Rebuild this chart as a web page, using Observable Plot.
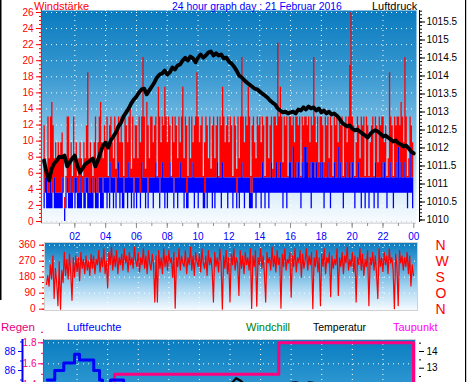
<!DOCTYPE html>
<html><head><meta charset="utf-8">
<script src="https://cdn.jsdelivr.net/npm/d3@7"></script>
<script src="https://cdn.jsdelivr.net/npm/@observablehq/plot@0.6"></script>
<style>
html,body{margin:0;padding:0;background:#fff;}
#wrap{position:relative;width:470px;height:382px;overflow:hidden;background:#fff;font-family:"Liberation Sans",Arial,sans-serif;}
#wrap svg{position:absolute;left:0;top:0;}
</style></head><body>
<div id="wrap">
<svg width="0" height="0" style="position:absolute">
<defs>
<linearGradient id="gTop" x1="0" y1="0" x2="0" y2="1">
<stop offset="0" stop-color="#0a7bbf"/><stop offset="0.3" stop-color="#3898d0"/><stop offset="0.55" stop-color="#7cbfe6"/><stop offset="0.75" stop-color="#b9def3"/><stop offset="0.9" stop-color="#e4f2fb"/><stop offset="1" stop-color="#f9fcff"/>
</linearGradient>
<linearGradient id="gMid" x1="0" y1="0" x2="0" y2="1">
<stop offset="0" stop-color="#0a7bbf"/><stop offset="0.35" stop-color="#4fa7da"/><stop offset="0.65" stop-color="#a6d4f0"/><stop offset="1" stop-color="#f7fbff"/>
</linearGradient>
<linearGradient id="gBot" x1="0" y1="0" x2="0" y2="1">
<stop offset="0" stop-color="#0a7dc1"/><stop offset="0.36" stop-color="#2c96d0"/><stop offset="1" stop-color="#8ccaee"/>
</linearGradient>
</defs></svg>
</div>
<script>
// ---------- data ----------
// wind gust, upper envelope (5-minute samples, 00:00 .. 24:00), one row per hour
const windGust = [
11.9,7.8,5.6,13,7.8,13,14.8,11.9,7.8,9.8,7.8,9.8,
7.8,9.8,11,7.8,3,5.6,13,13,7.8,9.8,5.6,13,
7.8,9.8,5.6,7.8,9.8,7.8,5.6,9.8,7.8,11.9,18.5,7.8,
9.8,7.8,5.6,9.8,13,7.8,9.8,13,14.8,9.8,7.8,11.9,
9.8,13,5.6,11.9,13,9.8,7.8,13,6.5,11.9,13,9.8,
13,9.8,5.6,13,11.9,9.8,13,14.8,6.5,13,7.8,11.9,
11.9,7.8,13,9.8,13,20.4,13,6.5,14.8,11.9,7.8,13,
13,9.8,11.9,13,5.6,16.7,13,9.8,13,11.9,16.7,13,
9.8,13,11.9,5.6,13,9.8,13,11.9,7.8,13,9.8,13,
16.7,7.8,13,11.9,5.6,13,7.8,13,9.8,11.9,13,18.5,
13,9.8,11.9,13,5.6,9.8,13,11.9,7.8,13,6.5,11.9,
13,7.8,11.9,13,5.6,13,11.9,16.7,13,9.8,11.9,13,
9.8,13,11.9,5.6,13,11.9,6.5,13,7.8,13,20.4,13,
9.8,13,11.9,16.7,13,5.6,11.9,13,9.8,7.8,13,11.9,
13,9.8,13,11.9,5.6,13,13,7.8,11.9,13,6.5,13,
13,11.9,22.2,13,16.7,13,7.3,13,11.9,13,5.6,13,
13,11.9,13,9.8,13,13,11.9,13,5.6,13,11.9,13,
13,11.9,13,9.8,13,11.9,20.4,13,9.8,13,7.3,13,
13,11.9,7.3,13,11.9,13,7.8,13,11.9,5.6,13,11.9,
13,9.8,13,11.9,13,5.6,11.9,13,9.8,13,19.4,26,
13,11.9,5.6,9.8,13,11.9,7.8,13,11.9,13,5.6,13,
11.9,5.6,9.8,11.9,13,5.6,13,11.9,7.3,13,11.9,13,
13,9.8,11.9,5.6,7.8,18.5,13,11.9,5.6,13,11.9,13,
13,11.9,14.8,13,9.8,20.4,13,5.6,7.8,13,11.9,9.8,
9.8];
// mean wind, upper envelope of each 5-minute slot
const windAvgHi = [
3.5,5.4,5.4,3.5,3.5,5.4,3.5,3.5,5.4,3.5,3.5,3.5,
3.5,3.5,5.4,3.5,1.6,3.5,5.4,3.5,3.5,5.4,3.5,3.5,
5.4,5.4,3.5,3.5,5.4,3.5,3.5,5.4,3.5,5.4,5.4,3.5,
3.5,5.4,3.5,3.5,5.4,3.5,3.5,5.4,5.4,5.4,3.5,5.4,
5.4,5.4,5.4,3.5,7.3,5.4,5.4,5.4,3.5,5.4,7.3,5.4,
5.4,5.4,3.5,5.4,5.4,5.4,7.3,5.4,5.4,5.4,3.5,5.4,
5.4,5.4,5.4,3.5,7.3,5.4,5.4,5.4,5.4,3.5,5.4,5.4,
5.4,5.4,5.4,7.3,5.4,5.4,3.5,5.4,7.3,5.4,5.4,5.4,
5.4,5.4,7.3,5.4,5.4,3.5,5.4,5.4,5.4,5.4,7.3,5.4,
5.4,5.4,5.4,3.5,5.4,5.4,5.4,5.4,7.3,5.4,5.4,5.4,
5.4,5.4,5.4,5.4,5.4,3.5,5.4,5.4,5.4,5.4,5.4,5.4,
5.4,5.4,5.4,7.3,5.4,5.4,5.4,7.3,5.4,5.4,5.4,5.4,
5.4,5.4,5.4,5.4,5.4,5.4,3.5,5.4,5.4,5.4,7.3,5.4,
5.4,5.4,5.4,5.4,5.4,3.5,3.5,5.4,5.4,5.4,5.4,5.4,
5.4,5.4,7.3,5.4,5.4,5.4,5.4,5.4,5.4,7.3,5.4,5.4,
5.4,7.3,5.4,5.4,7.3,5.4,5.4,5.4,5.4,5.4,5.4,7.3,
7.3,5.4,9.2,5.4,7.3,5.4,7.3,5.4,5.4,7.3,5.4,9.2,
9.2,7.3,5.4,7.3,5.4,7.3,7.3,5.4,7.3,5.4,5.4,7.3,
5.4,7.3,5.4,5.4,5.4,7.3,5.4,5.4,5.4,5.4,7.3,5.4,
5.4,9.2,5.4,7.3,5.4,5.4,5.4,7.3,5.4,5.4,7.3,5.4,
7.3,5.4,5.4,5.4,5.4,7.3,5.4,5.4,5.4,5.4,5.4,5.4,
5.4,5.4,5.4,5.4,5.4,5.4,7.3,5.4,5.4,5.4,5.4,7.3,
5.4,7.3,5.4,5.4,5.4,5.4,7.3,5.4,5.4,5.4,7.3,5.4,
9.2,5.4,7.3,5.4,5.4,7.3,5.4,5.4,5.4,9.2,5.4,5.4,
5.4];
// mean wind, lower envelope of each 5-minute slot
const windAvgLo = [
1.6,3.5,1.6,1.6,1.6,1.6,1.6,3.5,1.6,1.6,1.6,1.6,
1.6,1.6,1.6,3.5,0,1.6,3.5,1.6,1.6,1.6,1.6,3.5,
1.6,3.5,1.6,1.6,1.6,1.6,3.5,1.6,1.6,3.5,1.6,1.6,
1.6,1.6,1.6,3.5,1.6,1.6,1.6,3.5,1.6,1.6,1.6,3.5,
3.5,1.6,3.5,1.6,3.5,3.5,1.6,3.5,1.6,3.5,3.5,1.6,
3.5,1.6,1.6,3.5,3.5,1.6,3.5,3.5,1.6,3.5,1.6,3.5,
1.6,3.5,3.5,1.6,3.5,3.5,3.5,1.6,3.5,1.6,3.5,3.5,
3.5,1.6,3.5,3.5,3.5,3.5,1.6,3.5,3.5,3.5,1.6,3.5,
1.6,3.5,3.5,3.5,3.5,1.6,3.5,3.5,1.6,3.5,3.5,3.5,
3.5,1.6,3.5,1.6,1.6,3.5,3.5,3.5,3.5,1.6,3.5,3.5,
1.6,3.5,3.5,3.5,1.6,1.6,3.5,1.6,3.5,3.5,3.5,1.6,
3.5,1.6,3.5,3.5,3.5,3.5,1.6,3.5,3.5,3.5,3.5,1.6,
3.5,3.5,3.5,1.6,3.5,3.5,1.6,3.5,1.6,3.5,3.5,3.5,
1.6,3.5,3.5,3.5,1.6,1.6,1.6,3.5,3.5,1.6,3.5,3.5,
3.5,1.6,3.5,3.5,1.6,3.5,3.5,1.6,3.5,3.5,3.5,3.5,
3.5,3.5,3.5,3.5,3.5,3.5,1.6,3.5,3.5,1.6,3.5,3.5,
3.5,3.5,3.5,3.5,3.5,3.5,3.5,3.5,1.6,3.5,3.5,3.5,
3.5,3.5,3.5,3.5,1.6,3.5,3.5,3.5,3.5,3.5,3.5,3.5,
3.5,3.5,1.6,3.5,3.5,3.5,3.5,1.6,3.5,3.5,3.5,3.5,
3.5,3.5,3.5,3.5,3.5,1.6,3.5,3.5,3.5,3.5,3.5,3.5,
3.5,3.5,1.6,3.5,3.5,3.5,3.5,1.6,3.5,3.5,1.6,3.5,
3.5,1.6,3.5,3.5,3.5,1.6,3.5,3.5,1.6,3.5,3.5,3.5,
3.5,3.5,3.5,1.6,3.5,3.5,3.5,3.5,1.6,3.5,3.5,3.5,
3.5,3.5,3.5,3.5,3.5,3.5,3.5,1.6,3.5,3.5,3.5,1.6,
3.5];
// air pressure hPa (10-minute samples)
const pressure = [
1011.65,1011.32,1011.10,1011.43,1011.57,1011.65,1011.76,1011.74,1011.79,1011.49,1011.60,1011.71,
1011.79,1011.51,1011.32,1011.43,1011.54,1011.60,1011.65,1011.71,1011.49,1011.65,1011.88,1012.07,
1012.15,1012.01,1012.21,1012.32,1012.43,1012.60,1012.71,1012.88,1012.99,1013.10,1013.24,1013.35,
1013.43,1013.54,1013.63,1013.65,1013.49,1013.60,1013.71,1013.82,1013.96,1014.04,1014.07,1014.15,
1014.04,1014.10,1014.24,1014.18,1014.29,1014.32,1014.43,1014.51,1014.43,1014.54,1014.49,1014.38,
1014.51,1014.60,1014.51,1014.57,1014.65,1014.68,1014.57,1014.63,1014.57,1014.60,1014.49,1014.51,
1014.40,1014.35,1014.26,1014.15,1014.01,1013.96,1013.88,1013.82,1013.76,1013.71,1013.65,1013.63,
1013.57,1013.51,1013.46,1013.40,1013.32,1013.26,1013.21,1013.10,1013.04,1012.99,1013.01,1012.96,
1012.99,1013.01,1012.96,1013.07,1013.04,1013.13,1013.07,1013.15,1013.10,1013.13,1013.04,1013.10,
1012.99,1013.04,1012.96,1013.01,1012.93,1012.96,1012.90,1012.82,1012.71,1012.65,1012.60,1012.63,
1012.54,1012.49,1012.51,1012.46,1012.40,1012.35,1012.29,1012.38,1012.46,1012.49,1012.46,1012.40,
1012.32,1012.35,1012.29,1012.24,1012.18,1012.21,1012.13,1012.10,1012.04,1012.07,1011.99,1011.90,
1011.85];
// wind direction degrees (5-minute samples)
const windDir = [
140,190,130,250,170,300,60,230,150,20,270,0,
220,150,320,190,280,170,310,210,50,290,180,300,
210,290,160,320,230,280,200,300,220,270,190,310,
230,300,200,280,250,330,210,290,240,340,200,270,
120,320,250,350,220,300,240,330,200,290,250,310,
220,340,260,300,210,320,250,290,230,350,270,240,
320,210,290,250,340,230,300,200,330,260,220,310,
250,40,300,40,330,230,290,200,340,240,300,220,
330,260,290,180,320,6,290,240,340,220,300,260,
240,330,200,290,250,350,220,300,190,320,270,240,
310,210,340,260,230,300,190,330,250,290,220,40,
320,240,290,210,340,260,0,300,230,330,200,290,
40,310,250,340,220,290,260,77,330,230,300,200,
320,250,290,220,340,4,300,240,330,17,290,250,
340,230,300,200,40,320,260,290,220,350,240,300,
210,330,250,290,6,310,240,340,220,280,260,320,
67,300,240,340,210,290,260,330,180,310,230,280,
340,220,300,250,320,3,290,240,330,210,290,20,
310,240,340,200,290,260,320,70,300,230,280,250,
340,77,290,240,320,200,300,260,350,220,280,240,
320,210,300,40,290,250,340,220,310,190,280,240,
330,20,290,250,320,220,300,200,60,340,240,290,
210,320,250,300,200,340,260,290,220,3,310,240,
20,330,260,300,220,290,240,320,200,300,130,250,
190];
// rain (cumulative mm)
const rainT = [0, 4.45, 15.19, 24];
const rainV = [0, 1.5, 1.8, 0];
// humidity %
const humT = [0.05, 0.54, 1.13, 1.83, 2.16, 3.09, 3.47, 3.66, 4.19, 5.04, 24];
const humV = [85, 86, 86.8, 87.7, 87.1, 86, 85, 84, 85, 84, 84];
// temperature °C
const tempT = [0, 6, 10, 11.8, 12.16, 12.4, 12.7, 13.1, 15, 15.8, 16.3, 16.8, 17.2, 17.6, 18, 21, 24];
const tempV = [10.5, 10.8, 11.5, 11.9, 12.15, 12.4, 12.25, 11.9, 11.8, 12.1, 12.15, 12.05, 12.15, 12.1, 11.9, 11.4, 11.0];
// axis ticks
const hourTicks = [2,4,6,8,10,12,14,16,18,20,22,24];
const windTicks = [0,2,4,6,8,10,12,14,16,18,20,22,24,26];
const pressTicks = [1010,1010.5,1011,1011.5,1012,1012.5,1013,1013.5,1014,1014.5,1015,1015.5];
const dirTicks = [0,90,180,270,360];
const dirNames = ["N","O","S","W","N"];
const rainTicks = [1.4,1.6,1.8];
const humTicks = [86,88];
const tempTicks = [13,14];

// ---------- tables ----------
const windData = windGust.map((g,i)=>({t:i/12, gust:g, hi:windAvgHi[i], lo:windAvgLo[i]}));
const pressData = pressure.map((p,i)=>({t:i/6, p}));
const dirData = windDir.map((d,i)=>({t:i/12, d}));
const rainData = rainT.map((t,i)=>({t, v:rainV[i]}));
const humData = humT.map((t,i)=>({t, v:humV[i]}));
const tempData = tempT.map((t,i)=>({t, v:tempV[i]}));

const FONT = "'Liberation Sans', Arial, sans-serif";
const baseStyle = {background:"transparent", fontFamily: FONT, fontSize:"10px", overflow:"visible"};
const dots = {stroke:"#fff", strokeOpacity:1, strokeDasharray:"1,4"};
const blank = () => "";
const wrap = document.getElementById("wrap");
const add = (el) => wrap.appendChild(el);

// ---------- top panel: wind ----------
const xTop = {domain:[0,24], range:[43.5,413.3], axis:null};
add(Plot.plot({
  width:470, height:382, marginTop:10, marginBottom:159, marginLeft:41, marginRight:54,
  style: baseStyle,
  x: xTop,
  y: {domain:[0,26], range:[221,12], axis:null},
  marks: [
    Plot.frame({fill:"url(#gTop)", stroke:"none"}),
    Plot.gridY({ticks: windTicks.slice(1), ...dots}),
    Plot.gridY({ticks: [0], stroke:"#c8d4dc", strokeOpacity:1, strokeDasharray:"1,4"}),
    Plot.gridX({ticks: hourTicks.slice(0,11), ...dots}),
    Plot.areaY(windData, {x:"t", y1:"hi", y2:"gust", curve:"step-after", fill:"#ff0000"}),
    Plot.areaY(windData, {x:"t", y1:"lo", y2:"hi", curve:"step-after", fill:"#0000ff"}),
    Plot.ruleY([-0.2], {stroke:"#c8c8c8"}),
    Plot.ruleX([-0.17], {stroke:"#ff0000"}),
    Plot.axisY({ticks: windTicks, label:null, tickSize:5, tickPadding:3, stroke:"#ff0000", fill:"#ff0000"}),
    Plot.axisY({ticks: d3.range(0,26.01,0.5), label:null, tickSize:2, tickFormat: blank, stroke:"#ff0000"}),
    Plot.axisX({ticks: hourTicks, label:null, tickSize:5, tickPadding:4, stroke:"#909090", fill:"#0000ff",
      tickFormat: d => d3.format("02")(d % 24)}),
    Plot.axisX({ticks: d3.range(1,24,1), label:null, tickSize:3, tickFormat: blank, stroke:"#909090"})
  ]
}));

// ---------- top panel: pressure overlay ----------
add(Plot.plot({
  width:470, height:382, marginTop:10, marginBottom:160, marginLeft:41, marginRight:51,
  style: baseStyle,
  x: xTop,
  y: {domain:[1010,1015.5], range:[219.5,21.5], axis:null},
  marks: [
    Plot.line(pressData, {x:"t", y:"p", stroke:"#000", strokeWidth:3.8}),
    Plot.ruleX([24.37], {stroke:"#000"}),
    Plot.axisY({anchor:"right", ticks: pressTicks, label:null, tickSize:5, tickPadding:2, stroke:"#000", fill:"#000",
      tickFormat: d => (d % 1 ? d.toFixed(1) : d.toFixed(0))}),
    Plot.axisY({anchor:"right", ticks: d3.range(1010,1015.81,0.1), label:null, tickSize:2, tickFormat: blank, stroke:"#000"})
  ]
}));

// ---------- middle panel: wind direction ----------
const xLow = {domain:[0,24], range:[46,413], axis:null};
add(Plot.plot({
  width:470, height:382, marginTop:242, marginBottom:72, marginLeft:44, marginRight:53,
  style: baseStyle,
  x: xLow,
  y: {domain:[0,360], range:[308.7,244.7], axis:null},
  marks: [
    Plot.frame({fill:"url(#gMid)", stroke:"#d0d0d0"}),
    Plot.gridY({ticks:[90,180,270,360], ...dots}),
    Plot.gridX({ticks: hourTicks.slice(0,11), ...dots}),
    Plot.line(dirData, {x:"t", y:"d", stroke:"#ff0000", strokeWidth:1.2}),
    Plot.axisY({ticks: dirTicks, label:null, tickSize:5, tickPadding:4, stroke:"#ff0000", fill:"#ff0000"}),
    Plot.axisY({ticks: d3.range(0,361,30), label:null, tickSize:2, tickFormat: blank, stroke:"#ff0000"}),
    Plot.axisY({anchor:"right", ticks: dirTicks, label:null, tickSize:0, tickPadding:18, fill:"#ff0000", fontSize:14,
      tickFormat: d => dirNames[dirTicks.indexOf(d)]})
  ]
}));

// ---------- bottom panel: rain ----------
add(Plot.plot({
  width:470, height:460, marginTop:339, marginBottom:0, marginLeft:43, marginRight:55,
  style: baseStyle,
  x: xLow,
  y: {domain:[0,2], range:[531.3,321.3], axis:null},
  marks: [
    Plot.frame({fill:"url(#gBot)", stroke:"#d0d0d0"}),
    Plot.gridY({ticks: rainTicks, ...dots}),
    Plot.gridX({ticks: hourTicks.slice(0,11), ...dots}),
    Plot.line(rainData, {x:"t", y:"v", curve:"step-after", stroke:"#ff0080", strokeWidth:3}),
    Plot.ruleX([-0.2], {stroke:"#ff0080"}),
    Plot.axisY({ticks: rainTicks, label:null, tickSize:5, tickPadding:2, stroke:"#ff0080", fill:"#ff0080", tickFormat: d => d.toFixed(1)}),
    Plot.axisY({ticks: d3.range(1.3,1.91,0.1), label:null, tickSize:2, tickFormat: blank, stroke:"#ff0080"})
  ]
}));

// ---------- bottom panel: humidity overlay ----------
add(Plot.plot({
  width:470, height:460, marginTop:339, marginBottom:0, marginLeft:22, marginRight:55,
  style: baseStyle,
  x: xLow,
  y: {domain:[80,90], range:[427,332], axis:null},
  marks: [
    Plot.line(humData, {x:"t", y:"v", curve:"step-after", stroke:"#0000ff", strokeWidth:3}),
    Plot.ruleX([-1.57], {stroke:"#0000ff", strokeWidth:2}),
    Plot.axisY({ticks: humTicks, label:null, tickSize:4, tickPadding:3, stroke:"#0000ff", fill:"#0000ff"}),
    Plot.axisY({ticks: [83,85,87,89], label:null, tickSize:2, tickFormat: blank, stroke:"#0000ff"})
  ]
}));

// ---------- bottom panel: temperature overlay ----------
add(Plot.plot({
  width:470, height:460, marginTop:339, marginBottom:0, marginLeft:43, marginRight:52,
  style: baseStyle,
  x: xLow,
  y: {domain:[10,15], range:[417.8,334.3], axis:null},
  marks: [
    Plot.line(tempData, {x:"t", y:"v", stroke:"#000", strokeWidth:2.2}),
    Plot.axisY({anchor:"right", ticks: tempTicks, label:null, tickSize:5, tickPadding:3, stroke:"#000", fill:"#000", tickFormat: d => d.toFixed(0)}),
    Plot.axisY({anchor:"right", ticks: [11.5,12,12.5,13.5,14.5], label:null, tickSize:2, tickFormat: blank, stroke:"#000"})
  ]
}));

// ---------- titles, legend, border ----------
const ns = "http://www.w3.org/2000/svg";
const ov = document.createElementNS(ns, "svg");
ov.setAttribute("width", 470); ov.setAttribute("height", 382);
ov.style.fontFamily = FONT;
const labels = [
  ["Windstärke", 34, 9.5, "#ff0000", 11],
  ["24 hour graph day : 21 Februar 2016", 172, 9.5, "#0000ff", 10.4],
  ["Luftdruck", 372, 9.5, "#000000", 11],
  ["Regen", 1, 331, "#e8007f", 11.5],
  ["Luftfeuchte", 67, 331, "#0000ff", 11],
  ["Windchill", 246, 331, "#008000", 11],
  ["Temperatur", 313, 331, "#000000", 10.5],
  ["Taupunkt", 393, 331, "#ff00ff", 11]
];
for (const [s,x,y,c,fs] of labels) {
  const t = document.createElementNS(ns, "text");
  t.setAttribute("x", x); t.setAttribute("y", y); t.setAttribute("fill", c);
  t.setAttribute("font-size", fs); t.textContent = s; ov.appendChild(t);
}
const r1 = document.createElementNS(ns, "rect");
r1.setAttribute("x",0); r1.setAttribute("y",0); r1.setAttribute("width",1.5); r1.setAttribute("height",300); r1.setAttribute("fill","#000");
ov.appendChild(r1);
const r2 = document.createElementNS(ns, "rect");
r2.setAttribute("x",465); r2.setAttribute("y",0); r2.setAttribute("width",1.2); r2.setAttribute("height",382); r2.setAttribute("fill","#000");
ov.appendChild(r2);
add(ov);
</script>
</body></html>
